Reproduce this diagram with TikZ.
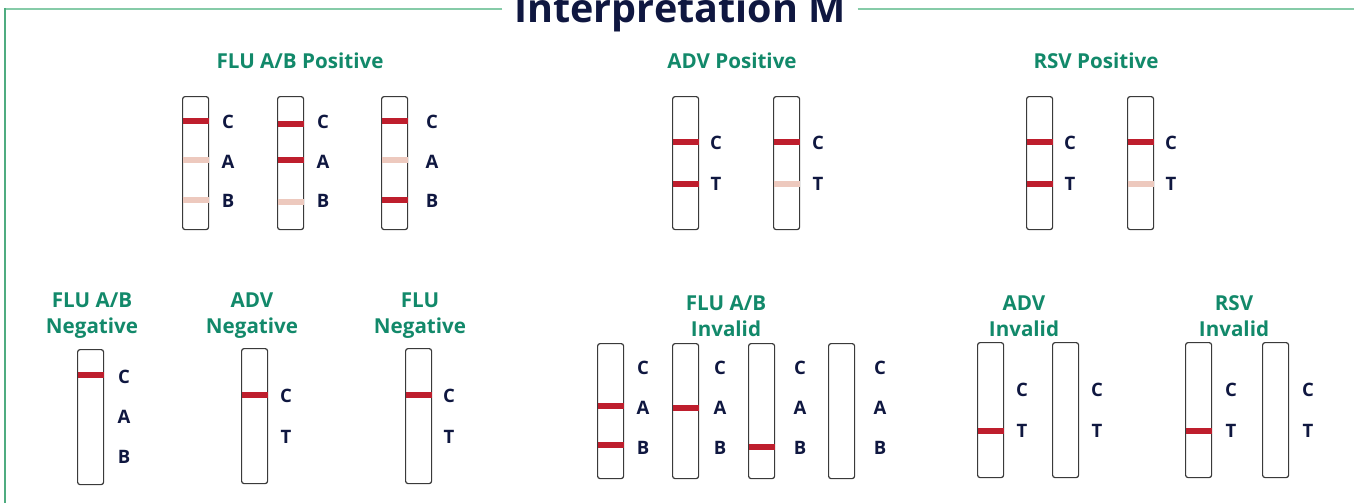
\documentclass[tikz,border=0pt]{standalone}
\usepackage{fontspec}
\setmainfont{Open Sans}
\usepackage{tikz}
\usetikzlibrary{positioning}
\definecolor{navy}{HTML}{0F1740}
\definecolor{headgreen}{HTML}{12896A}
\definecolor{frametop}{HTML}{86CBA8}
\definecolor{frameleft}{HTML}{4FAC80}
\definecolor{stripgray}{HTML}{3A3A3A}
\definecolor{bandred}{HTML}{BE1E2D}
\definecolor{bandpale}{HTML}{EDC9BE}

\begin{document}
\begin{tikzpicture}[
    x=1pt, y=-1pt,
    strip/.style={draw=stripgray, line width=1.2pt, rounded corners=2.5pt, fill=white,
      minimum width=26pt, minimum height=133pt, inner sep=0pt, anchor=north west},
    tallstrip/.style={strip, minimum height=135pt},
    band/.style={line width=5.5pt, shorten <=0.6pt, shorten >=0.6pt},
    lbl/.style={font=\fontsize{18.5}{20}\selectfont\bfseries, text=navy, inner sep=1pt},
    head/.style={font=\fontsize{20.6}{26}\selectfont\bfseries, text=headgreen, align=center, inner sep=1pt}
]
\useasboundingbox (0,0) rectangle (1354,503);

% Title and frame
\node[font=\fontsize{39.5}{42}\selectfont\bfseries, text=navy, inner xsep=12pt, anchor=base] (title) at (680,23) {Interpretation M};
\draw[frametop, line width=2.2pt] (title.west |- 0,9) -- (5,9);
\draw[frametop, line width=2.2pt] (title.east |- 0,9) -- (1354,9);
\draw[frameleft, line width=1.5pt] (5,8) -- (5,503);

% Headings
\node[head] (hfap) at (300,61) {FLU A/B Positive};
\node[head] (hadp) at (732,61) {ADV Positive};
\node[head] (hrsp) at (1096,61) {RSV Positive};
\node[head] (hfan) at (92,316) {FLU A/B\\Negative};
\node[head] (hadn) at (252,316) {ADV\\Negative};
\node[head] (hfln) at (420,316) {FLU\\Negative};
\node[head] (hfai) at (726,316) {FLU A/B\\Invalid};
\node[head] (hadi) at (1024,316) {ADV\\Invalid};
\node[head] (hrsi) at (1234,316) {RSV\\Invalid};

% Strips, top row
\foreach \n/\x in {fa1/182, fa2/277, fa3/381, ap1/672, ap2/773, rp1/1026, rp2/1127}
  \node[strip] (\n) at (\x,96) {};

% Strips, bottom row
\foreach \n/\x/\y in {fn/77/349, an/241/348, fln/405/348, fi1/597/343, fi2/672/343,
    fi3/748/343, fi4/828/343, ai1/977/342, ai2/1052/342, ri1/1185/342, ri2/1262/342}
  \node[tallstrip] (\n) at (\x,\y) {};

% Bands
\foreach \n/\y/\col in {fa1/121/bandred, fa1/160/bandpale, fa1/200/bandpale,
    fa2/124/bandred, fa2/160/bandred, fa2/202/bandpale,
    fa3/121/bandred, fa3/160/bandpale, fa3/200/bandred,
    ap1/142/bandred, ap1/184/bandred, ap2/142/bandred, ap2/184/bandpale,
    rp1/142/bandred, rp1/184/bandred, rp2/142/bandred, rp2/184/bandpale,
    fn/375/bandred, an/395/bandred, fln/395/bandred,
    fi1/406/bandred, fi1/445/bandred, fi2/408/bandred, fi3/447/bandred,
    ai1/431/bandred, ri1/431/bandred}
  \draw[band, draw=\col] (\n.west |- 0,\y) -- (\n.east |- 0,\y);

% Line labels, three lines
\foreach \n/\x/\yc/\ya/\yb in {fa1/228/122/162/201, fa2/323/122/162/201, fa3/432/122/162/201,
    fn/124/377/417/457, fi1/643/368/408/448, fi2/720/368/408/448,
    fi3/800/368/408/448, fi4/880/368/408/448}
{
  \node[lbl] (\n-C) at (\x,\yc) {C};
  \node[lbl] (\n-A) at (\x,\ya) {A};
  \node[lbl] (\n-B) at (\x,\yb) {B};
}

% Line labels, two lines
\foreach \n/\x/\yc/\yt in {ap1/716/143/184, ap2/818/143/184, rp1/1070/143/184, rp2/1171/143/184,
    an/286/396/437, fln/449/396/437, ai1/1022/390/431, ai2/1097/390/431,
    ri1/1231/390/431, ri2/1308/390/431}
{
  \node[lbl] (\n-C) at (\x,\yc) {C};
  \node[lbl] (\n-T) at (\x,\yt) {T};
}

\end{tikzpicture}
\end{document}
